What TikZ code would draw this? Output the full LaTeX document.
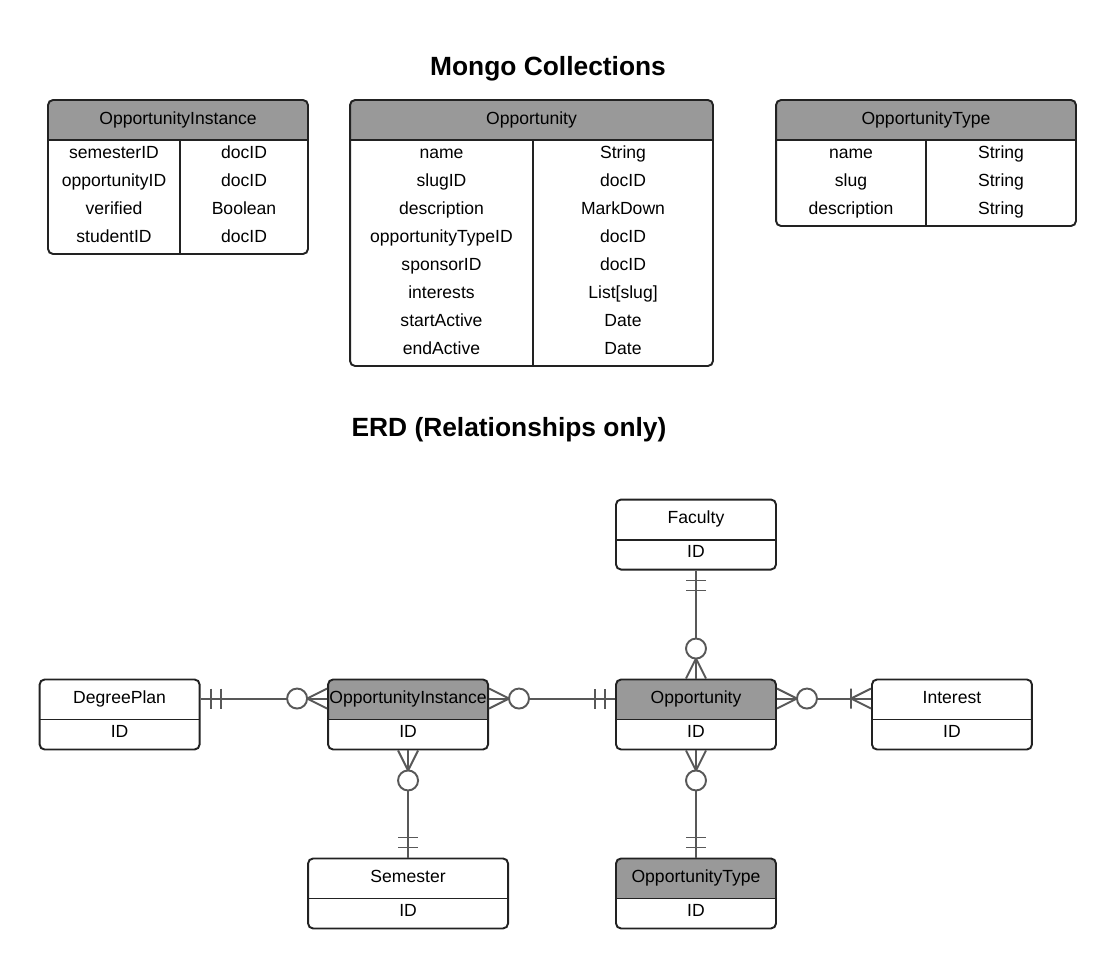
\documentclass[tikz,border=0pt]{standalone}
\usepackage{fontspec}
\setmainfont{Liberation Sans}
\usetikzlibrary{positioning}
\usetikzlibrary{calc}

\definecolor{hdrgray}{RGB}{153,153,153}
\definecolor{boxline}{RGB}{34,34,34}
\definecolor{relline}{RGB}{88,88,88}

\begin{document}
\begin{tikzpicture}[x=0.02cm,y=-0.02cm,on grid,
    box/.style={draw=boxline,line width=1.1pt,rounded corners=0.1cm,
      minimum width=3.2cm,minimum height=1.4cm,inner sep=0pt,
      path picture={
        \fill[#1,sharp corners] (path picture bounding box.north west)
          rectangle ([yshift=-0.8cm]path picture bounding box.north east);
        \draw[boxline,line width=1.1pt,sharp corners]
          ([yshift=-0.8cm]path picture bounding box.north west)
          -- ([yshift=-0.8cm]path picture bounding box.north east);}},
    box/.default=white,
    cell/.style={anchor=base,inner sep=0pt},
    title/.style={anchor=base,inner sep=0pt,font=\fontsize{15}{18}\selectfont\bfseries},
    col/.style={draw=boxline,line width=1.1pt},
    rel/.style={draw=relline,line width=1.1pt},
    onlyone/.pic={\draw[rel] (10,-10) -- (10,10) (20,-10) -- (20,10);},
    onemany/.pic={\draw[rel] (0,-10) -- (20,0) -- (0,10) (20,-10) -- (20,10);},
    zeromany/.pic={\draw[rel] (0,-10) -- (20,0) -- (0,10);
      \draw[rel,fill=white] (30,0) circle[radius=0.2cm];}]
  \useasboundingbox (0,0) rectangle (1116,970);

  % collections
  \node[title] (h_mongo) at (548,75.5) {Mongo Collections};

  \node[box=hdrgray,minimum width=5.2cm,minimum height=3.08cm] (t_oi) at (178,177) {};
  \node[cell] (t_oi_n) at ([yshift=-0.5cm]t_oi.north) {OpportunityInstance};
  \draw[col] (180,140) -- (180,254);
  \foreach \fld/\typ [count=\i from 0] in {semesterID/docID,opportunityID/docID,
      verified/Boolean,studentID/docID} {
    \node[cell] (t_oi_f\i) at (114,158.3+28*\i) {\fld};
    \node[cell] (t_oi_t\i) at (244,158.3+28*\i) {\typ};
  }

  \node[box=hdrgray,minimum width=7.26cm,minimum height=5.32cm] (t_opp) at (531.5,233) {};
  \node[cell] (t_opp_n) at ([yshift=-0.5cm]t_opp.north) {Opportunity};
  \draw[col] (533,140) -- (533,366);
  \foreach \fld/\typ [count=\i from 0] in {name/String,slugID/docID,
      description/MarkDown,opportunityTypeID/docID,sponsorID/docID,
      interests/{List[slug]},startActive/Date,endActive/Date} {
    \node[cell] (t_opp_f\i) at (441.5,158.3+28*\i) {\fld};
    \node[cell] (t_opp_t\i) at (623,158.3+28*\i) {\typ};
  }

  \node[box=hdrgray,minimum width=6cm,minimum height=2.52cm] (t_type) at (926,163) {};
  \node[cell] (t_type_n) at ([yshift=-0.5cm]t_type.north) {OpportunityType};
  \draw[col] (926,140) -- (926,226);
  \foreach \fld/\typ [count=\i from 0] in {name/String,slug/String,
      description/String} {
    \node[cell] (t_type_f\i) at (851,158.3+28*\i) {\fld};
    \node[cell] (t_type_t\i) at (1001,158.3+28*\i) {\typ};
  }

  % relationships
  \node[title] (h_erd) at (509,436.5) {ERD (Relationships only)};

  \node[box=hdrgray] (e_opp) at (696,714.5) {};
  \node[box] (e_fac) [above=3.6cm of e_opp] {};
  \node[box=hdrgray] (e_type) [below=3.58cm of e_opp] {};
  \node[box=hdrgray] (e_oi) [left=5.76cm of e_opp] {};
  \node[box] (e_dp) [left=5.77cm of e_oi] {};
  \node[box] (e_int) [right=5.12cm of e_opp] {};
  \node[box,minimum width=4cm] (e_sem) [below=3.58cm of e_oi] {};

  \foreach \e/\ttl in {e_opp/Opportunity,e_fac/Faculty,e_type/OpportunityType,
      e_oi/OpportunityInstance,e_dp/DegreePlan,e_int/Interest,e_sem/Semester} {
    \node[cell] (\e_n) at ([yshift=-0.49cm]\e.north) {\ttl};
    \node[cell] (\e_id) at ([yshift=0.26cm]\e.south) {ID};
  }

  \draw[rel] ([yshift=-0.4cm]e_dp.north east) -- ([yshift=-0.4cm]e_oi.north west);
  \draw[rel] ([yshift=-0.4cm]e_oi.north east) -- ([yshift=-0.4cm]e_opp.north west);
  \draw[rel] ([yshift=-0.4cm]e_opp.north east) -- ([yshift=-0.4cm]e_int.north west);
  \draw[rel] (e_fac.south) -- (e_opp.north);
  \draw[rel] (e_opp.south) -- (e_type.north);
  \draw[rel] (e_oi.south) -- (e_sem.north);

  \pic at ([yshift=-0.4cm]e_dp.north east) {onlyone};
  \pic[rotate=180] at ([yshift=-0.4cm]e_oi.north west) {zeromany};
  \pic at ([yshift=-0.4cm]e_oi.north east) {zeromany};
  \pic[rotate=180] at ([yshift=-0.4cm]e_opp.north west) {onlyone};
  \pic at ([yshift=-0.4cm]e_opp.north east) {zeromany};
  \pic[rotate=180] at ([yshift=-0.4cm]e_int.north west) {onemany};
  \pic[rotate=-90] at (e_fac.south) {onlyone};
  \pic[rotate=90] at (e_opp.north) {zeromany};
  \pic[rotate=-90] at (e_opp.south) {zeromany};
  \pic[rotate=90] at (e_type.north) {onlyone};
  \pic[rotate=-90] at (e_oi.south) {zeromany};
  \pic[rotate=90] at (e_sem.north) {onlyone};
\end{tikzpicture}
\end{document}
